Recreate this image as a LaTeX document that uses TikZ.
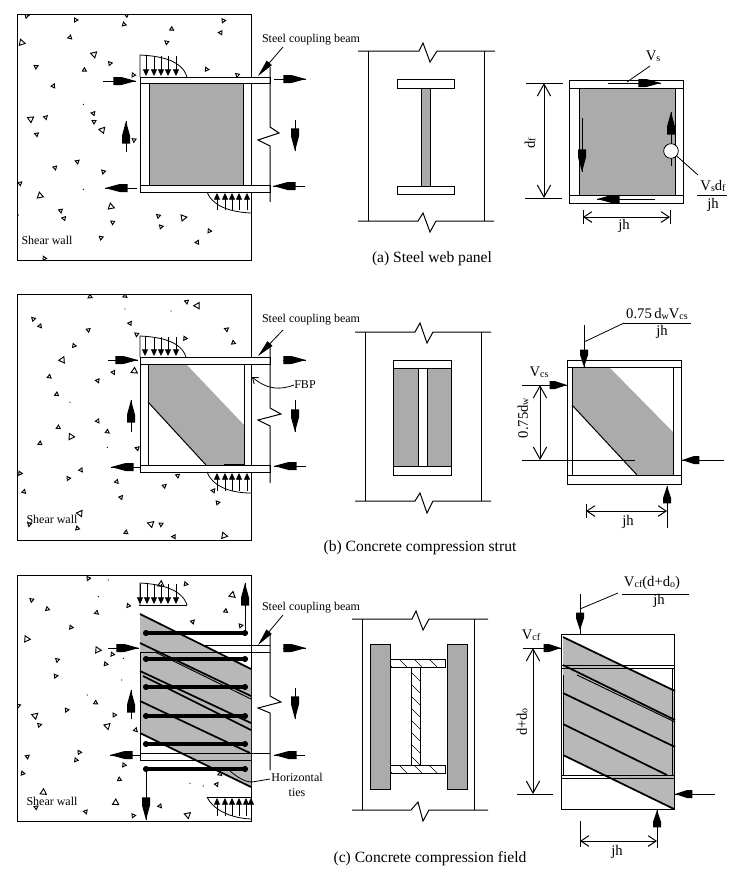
\documentclass[tikz,border=0pt]{standalone}
\usepackage{fontspec}
\setmainfont{Liberation Serif}
\usetikzlibrary{arrows.meta,calc}
\definecolor{webgrey}{HTML}{ABABAB}
\definecolor{fieldgrey}{HTML}{B8B8B8}
\newcommand\lowtxt[1]{\raisebox{-0.4pt}{\fontsize{7.5}{8}\selectfont #1}}
\newcommand\aggs[3]{%
  \foreach \ax/\ay in {#1}{%
    \pgfmathsetmacro\ar{mod(\ax*7+\ay*13,360)}%
    \draw[agg,shift={(\ax/3,#2+\ay/3)},rotate=\ar] (90:#3)--(210:#3)--(330:#3)--cycle;
  }}
\newcommand\specks[2]{%
  \foreach \ax/\ay in {#1}{\fill (\ax/3,#2+\ay/3) circle (0.45pt);}}
% solid force arrow: #1 taper length, #2 total head length, #3 free end, #4 tip
\newcommand\harr[4]{%
  \draw[ln] #3--#4;
  \path #4 coordinate (hT) #3 coordinate (hF);
  \coordinate (hA) at ($(hT)!#1pt!(hF)$);
  \coordinate (hC) at ($(hT)!#2pt!(hF)$);
  \fill[black] (hT)--($(hA)!3pt!90:(hT)$)--($(hC)!3pt!90:(hA)$)--($(hC)!3pt!-90:(hA)$)--($(hA)!3pt!-90:(hT)$)--cycle;
}
\newcommand\barr[2]{\harr{11}{17}{#1}{#2}}
\newcommand\marr[2]{\harr{9}{13}{#1}{#2}}
\tikzset{
  ln/.style={line width=0.75pt,black},
  agg/.style={line width=0.7pt,black},
  tinyarr/.style={line width=0.6pt,-{Triangle[length=5pt,width=4.5pt]}},
  leadarr/.style={line width=0.6pt,-{Triangle[length=13pt,width=5pt]}},
  dimbig/.style={line width=0.75pt,{Straight Barb[length=9pt,width=10pt]}-{Straight Barb[length=9pt,width=10pt]}},
  dimsmall/.style={line width=0.75pt,{Straight Barb[length=6pt,width=8pt]}-{Straight Barb[length=6pt,width=8pt]}},
  lbl/.style={font=\fontsize{9}{10}\selectfont,inner sep=0pt},
  sym/.style={font=\fontsize{11}{12}\selectfont,inner sep=0pt},
  captxt/.style={font=\fontsize{11.7}{13}\selectfont,inner sep=0pt},
  tiebar/.style={line width=2.6pt,black},
  band/.style={line width=1.3pt,black},
}
\begin{document}
\begin{tikzpicture}[x=0.75pt,y=-0.75pt]
\path[use as bounding box,fill=white] (0,0) rectangle (736,876);

%%% ===== PANEL (a) LEFT =====
\begin{scope}
\clip (17,14) rectangle (251,260);
\aggs{80/48,380/45,372/73,227/60,515/87,670/62,662/98,210/112,500/127,330/190,108/200,253/210,400/225,620/208,712/225,160/258,280/340,282/365,137/352,110/403,402/420,232/485,165/503,310/515,60/550,182/632,192/655,338/667,475/648,483/680,628/693,592/727,303/713,133/775}{0}{2.3}
\aggs{65/128,282/163,92/357,307/390,120/587,333/620,550/653}{0}{3.6}
\specks{250/313,250/568,55/645}{0}
\end{scope}
\draw[ln] (17,14) rectangle (251,260);
\fill[white] (140,77) rectangle (251,192);
\fill[webgrey] (149,83) rectangle (243,185);
\draw[ln] (149,83)--(149,185) (243,83)--(243,185) (140,83)--(140,185);
\draw[ln,fill=white] (140,77) rectangle (270,83.5);
\draw[ln,fill=white] (140,185) rectangle (270,192);
\draw[ln] (270,67)--(270,127)--(279,133)--(258,140)--(270,146)--(270,202);
\draw[line width=0.6pt] (140,77)--(140,55) .. controls (160,56) and (182,60) .. (187,77);
\foreach \sx in {146,154,161,168,176}{\draw[tinyarr] (\sx,56)--(\sx,76);}
\draw[line width=0.6pt] (207,192) .. controls (212,205) and (228,212) .. (251,213);
\foreach \sx in {217,225,232,239,247}{\draw[tinyarr] (\sx,210)--(\sx,193);}
\barr{(103,81)}{(136,81)}
\barr{(274,79)}{(306,79)}
\barr{(295,120)}{(295,151)}
\barr{(126,152)}{(126,121)}
\barr{(137,188)}{(105,188)}
\barr{(305,186)}{(273,186)}
\node[lbl] (steelA) at (311,40) {Steel coupling beam};
\coordinate (steelAfree) at (283,47);
\coordinate (steelAbeam) at (258,76);
\draw[leadarr] (steelAfree)--(steelAbeam);
\node[lbl] (shearA) at (47,240) {Shear wall};

%%% (a) MIDDLE
\draw[ln] (358,51)--(419,51)--(423,43)--(430,62)--(437,51)--(495,51);
\draw[ln] (358,221)--(418,221)--(423,213)--(430,232)--(436,221)--(494,221);
\draw[ln] (368,51)--(368,221) (484,51)--(484,221);
\draw[ln,fill=white] (397,79) rectangle (454,88);
\draw[ln,fill=webgrey] (421,88) rectangle (430,186);
\draw[ln,fill=white] (397,186) rectangle (454,194.5);
\node[captxt] (capA) at (432,259) {(a) Steel web panel};

%%% (a) RIGHT
\fill[webgrey] (579,88) rectangle (675,195);
\draw[ln] (569,80) rectangle (683,203);
\draw[ln] (569,88)--(683,88) (569,195)--(683,195) (579,88)--(579,195) (675,88)--(675,195);
\barr{(608,83)}{(661,83)}
\barr{(655,199)}{(597,199)}
\barr{(582,118)}{(582,172)}
\barr{(671,166)}{(671,112)}
\node[draw,circle,fill=white,minimum size=11pt,inner sep=0pt,line width=0.6pt] (holeA) at (671,151) {};
\node[sym] (vs) at (653,56) {V\lowtxt{s}};
\coordinate (vsend) at (627,82);
\draw[line width=0.6pt] (650,66)--(vsend);
\node[sym] (vsdf) at (713,186) {V\lowtxt{s}d\lowtxt{f}};
\node[sym] (jhA) at (713,205) {jh};
\draw[ln] (697,195)--(727,195);
\coordinate (vsdfend) at (698,175);
\draw[line width=0.6pt] (holeA)--(vsdfend);
\draw[ln] (526,83)--(563,83) (525,198)--(562,198);
\draw[dimbig] (544,83)--(544,198);
\node[sym,rotate=90] (dfA) at (530,143) {d\lowtxt{f}};
\draw[ln] (583,210)--(583,224) (670,210)--(670,224);
\draw[dimsmall] (583,217)--(670,217);
\node[sym] (jhA2) at (624,226) {jh};

%%% ===== PANEL (b) LEFT =====
\begin{scope}
\clip (17,294) rectangle (251,540);
\aggs{270/35,375/33,560/50,100/102,120/123,265/135,390/115,410/148,680/133,555/160,700/173,222/182,340/262,148/275,293/287,170/328,293/408,175/427,322/440,120/475,412/490,243/555,205/580,60/565,350/590,72/620,493/603,533/572,363/637,640/617,653/653,232/730,483/718,378/742,522/755,88/718}{285}{2.3}
\aggs{592/62,187/225,403/258,213/455,240/685,453/717,672/752}{285}{3.6}
\specks{375/72,513/78,210/352,322/487}{285}
\end{scope}
\draw[ln] (17,294) rectangle (251,540);
\fill[white] (140,357) rectangle (251,472);
\fill[webgrey] (148,364)--(186,364)--(244,425)--(244,465)--(206,465)--(148,402)--cycle;
\draw[ln] (148,402)--(206,465);
\draw[ln] (148,364)--(148,465) (244,364)--(244,465) (140,364)--(140,465);
\draw[ln,fill=white] (140,357) rectangle (270,364);
\draw[ln,fill=white] (140,465) rectangle (270,472);
\draw[line width=1.5pt] (224,465)--(245,465);
\draw[ln] (270,347)--(270,408)--(281,414)--(258,420)--(270,426)--(270,483);
\draw[line width=0.6pt] (140,357)--(140,336) .. controls (160,337) and (181,341) .. (186,357);
\foreach \sx in {145,154,161,168,176}{\draw[tinyarr] (\sx,337)--(\sx,356);}
\draw[line width=0.6pt] (207,472) .. controls (212,485) and (228,493) .. (251,493);
\foreach \sx in {217,225,232,239,247}{\draw[tinyarr] (\sx,491)--(\sx,473);}
\barr{(108,360)}{(138,360)}
\barr{(283,360)}{(306,360)}
\barr{(295,400)}{(295,432)}
\barr{(131,432)}{(131,400)}
\barr{(140,467)}{(111,467)}
\barr{(306,466)}{(274,466)}
\node[lbl] (steelB) at (311,320) {Steel coupling beam};
\coordinate (steelBfree) at (283,330);
\coordinate (steelBbeam) at (258,356);
\draw[leadarr] (steelBfree)--(steelBbeam);
\node[lbl] (fbp) at (305,385) {FBP};
\coordinate (fbpend) at (252,377);
\draw[line width=0.6pt,-{Straight Barb[length=4pt,width=6pt]}] (fbp.west) .. controls (280,390) and (268,390) .. (fbpend);
\node[lbl] (shearB) at (52,519) {Shear wall};

%%% (b) MIDDLE
\draw[ln] (355,332)--(415,332)--(420,323)--(427,343)--(433,332)--(491,332);
\draw[ln] (355,501)--(415,501)--(420,493)--(427,513)--(433,501)--(491,501);
\draw[ln] (365,332)--(365,501) (481,332)--(481,501);
\draw[ln,fill=white] (393,360) rectangle (451,368);
\draw[ln,fill=webgrey] (393,368) rectangle (418,466);
\draw[ln,fill=white] (418,368) rectangle (427,466);
\draw[ln,fill=webgrey] (427,368) rectangle (451,466);
\draw[ln,fill=white] (393,466) rectangle (451,475);
\node[captxt] (capB) at (420,548) {(b) Concrete compression strut};

%%% (b) RIGHT
\fill[webgrey] (572,367)--(609,367)--(673,432)--(673,475)--(637,475)--(572,405)--cycle;
\draw[ln] (572,405)--(637,475);
\draw[ln] (567,360) rectangle (681,484);
\draw[ln] (567,367)--(681,367) (567,475)--(681,475) (572,367)--(572,475) (673,367)--(673,475);
\node[sym] (num075) at (657,314) {0.75\,d\lowtxt{w}V\lowtxt{cs}};
\draw[ln] (624,323)--(691,323);
\node[sym] (jhB) at (662,332) {jh};
\marr{(584,325)}{(584,367)}
\draw[line width=0.6pt] (624,323)--(584,342);
\node[sym] (vcs) at (539,372) {V\lowtxt{cs}};
\marr{(522,385)}{(567,385)}
\marr{(724,460)}{(682,460)}
\marr{(667,528)}{(667,486)}
\draw[ln] (522,460)--(635,460);
\draw[dimbig] (540,385)--(540,460);
\node[sym,rotate=90] (d075) at (523,418) {0.75d\lowtxt{w}};
\draw[ln] (586,504)--(586,518);
\draw[dimsmall] (586,511)--(667,511);
\node[sym] (jhB2) at (628,522) {jh};

%%% ===== PANEL (c) LEFT =====
\begin{scope}
\clip (17,575) rectangle (251,821);
\aggs{265/40,95/105,142/132,290/143,385/122,557/57,677/138,578/170,722/182,213/187,337/268,172/285,167/333,317/297,287/413,200/435,343/450,118/480,407/495,238/562,228/585,82/575,372/600,68/625,358/643,660/627,650/658,108/727,480/723,257/740,400/752,55/422}{565}{2.3}
\aggs{483/58,697/90,80/222,293/255,105/452,322/483,130/682,347/713,563/750}{565}{3.6}
\specks{325/45,295/95,365/345,262/390,370/280,570/655,610/663}{565}
\end{scope}
\draw[ln] (17,575) rectangle (251,821);
\fill[fieldgrey] (140,614)--(251,669)--(251,787)--(140,733)--cycle;
\draw[line width=0.6pt] (140,652)--(270,652) (205,645)--(270,645);
\draw[line width=0.6pt] (140,753)--(270,753) (140,760)--(251,760);
\draw[line width=0.6pt] (140,652)--(140,760);
\draw[band] (140,614)--(251,669);
\draw[band] (140,733)--(251,787);
\draw[band] (140,643)--(251,696);
\draw[line width=0.7pt] (155,652)--(251,699);
\draw[band] (140,671)--(251,723);
\draw[band] (143,676)--(251,730);
\draw[band] (140,701)--(250,753);
\foreach \ty in {633,659,687,716,744,769}{
  \draw[tiebar] (146,\ty)--(245,\ty);
  \fill (146,\ty) circle (2.3pt) (245,\ty) circle (2.3pt);
}
\draw[ln] (270,635)--(270,696)--(281,702)--(258,708)--(270,713)--(270,770);
\draw[line width=0.6pt] (139,605)--(187,605);
\draw[line width=0.6pt] (140,605)--(140,583) .. controls (160,584) and (182,589) .. (187,605);
\foreach \sx in {140,147,154,161,168,176}{\draw[tinyarr] (\sx,584)--(\sx,604);}
\draw[line width=0.6pt] (207,797)--(251,797);
\draw[line width=0.6pt] (207,797) .. controls (212,808) and (228,818) .. (251,819);
\foreach \sx in {217,225,232,239,246,251}{\draw[tinyarr] (\sx,816)--(\sx,798);}
\barr{(108,648)}{(139,648)}
\barr{(283,648)}{(306,648)}
\barr{(295,688)}{(295,719)}
\barr{(131,719)}{(131,690)}
\barr{(140,755)}{(110,755)}
\barr{(305,755)}{(274,755)}
\barr{(245,633)}{(245,583)}
\barr{(146,769)}{(146,820)}
\node[lbl] (steelC) at (311,608) {Steel coupling beam};
\coordinate (steelCfree) at (283,615);
\coordinate (steelCbeam) at (258,645);
\draw[leadarr] (steelCfree)--(steelCbeam);
\node[lbl,align=center] (ties) at (297,785) {Horizontal\\[1pt]ties};
\coordinate (tiesstart) at (270,779);
\coordinate (tiesend) at (230,771);
\draw[line width=0.6pt] (tiesstart)--(252,782) .. controls (244,782) and (236,776) .. (tiesend);
\node[lbl] (shearC) at (52,801) {Shear wall};

%%% (c) MIDDLE
\draw[ln] (352,619)--(412,619)--(416,611)--(423,630)--(429,619)--(488,619);
\draw[ln] (352,810)--(411,810)--(418,802)--(423,821)--(429,810)--(488,810);
\draw[ln] (362,619)--(362,810) (474,619)--(474,810);
\draw[ln,fill=webgrey] (370,644) rectangle (390,789);
\draw[ln,fill=webgrey] (447,644) rectangle (467,789);
\draw[ln] (390,659) rectangle (445,667);
\draw[ln] (411,667) rectangle (420,765);
\draw[ln] (390,765) rectangle (445,773);
\begin{scope}
\clip (390,659) rectangle (445,667);
\foreach \hx in {384,399,414,429,444}{\draw[line width=0.5pt] (\hx,659)--(\hx+8,667);}
\end{scope}
\begin{scope}
\clip (390,765) rectangle (445,773);
\foreach \hx in {384,399,414,429,444}{\draw[line width=0.5pt] (\hx,765)--(\hx+8,773);}
\end{scope}
\begin{scope}
\clip (411,667) rectangle (420,765);
\foreach \hy in {672,684,696,708,720,732,744,756}{\draw[line width=0.5pt] (411,\hy)--(420,\hy+9);}
\end{scope}
\node[captxt] (capC) at (430,859) {(c) Concrete compression field};

%%% (c) RIGHT
\fill[fieldgrey] (563,637)--(674,691)--(674,809)--(563,755)--cycle;
\draw[ln] (561,634) rectangle (674,809);
\draw[line width=0.6pt] (561,665)--(674,665) (561,668)--(674,668) (561,775)--(674,775) (561,778)--(674,778);
\draw[line width=0.6pt] (563,675)--(563,775) (672,668)--(672,775);
\draw[band] (563,637)--(675,691);
\draw[band] (563,665)--(675,720);
\draw[line width=0.7pt] (577,675)--(675,722);
\draw[band] (563,693)--(675,747);
\draw[band] (563,724)--(667,775);
\draw[band] (563,755)--(674,809);
\node[sym] (numcf) at (652,583) {V\lowtxt{cf}(d+d\lowtxt{o})};
\draw[ln] (622,594)--(689,594);
\node[sym] (jhC) at (659,601) {jh};
\draw[line width=0.6pt] (618,593)--(580,609);
\draw[ln] (580,626)--(580,634);
\marr{(580,594)}{(580,630)}
\node[sym] (vcf) at (531,635) {V\lowtxt{cf}};
\marr{(523,648)}{(561,648)}
\marr{(715,794)}{(675,794)}
\marr{(657,848)}{(657,810)}
\draw[ln] (517,794)--(553,794);
\draw[dimbig] (533,648)--(533,794);
\node[sym,rotate=90] (ddo) at (522,722) {d+d\lowtxt{o}};
\draw[ln] (580,821)--(580,847);
\draw[dimsmall] (580,841)--(657,841);
\node[sym] (jhC2) at (617,852) {jh};
\end{tikzpicture}
\end{document}
